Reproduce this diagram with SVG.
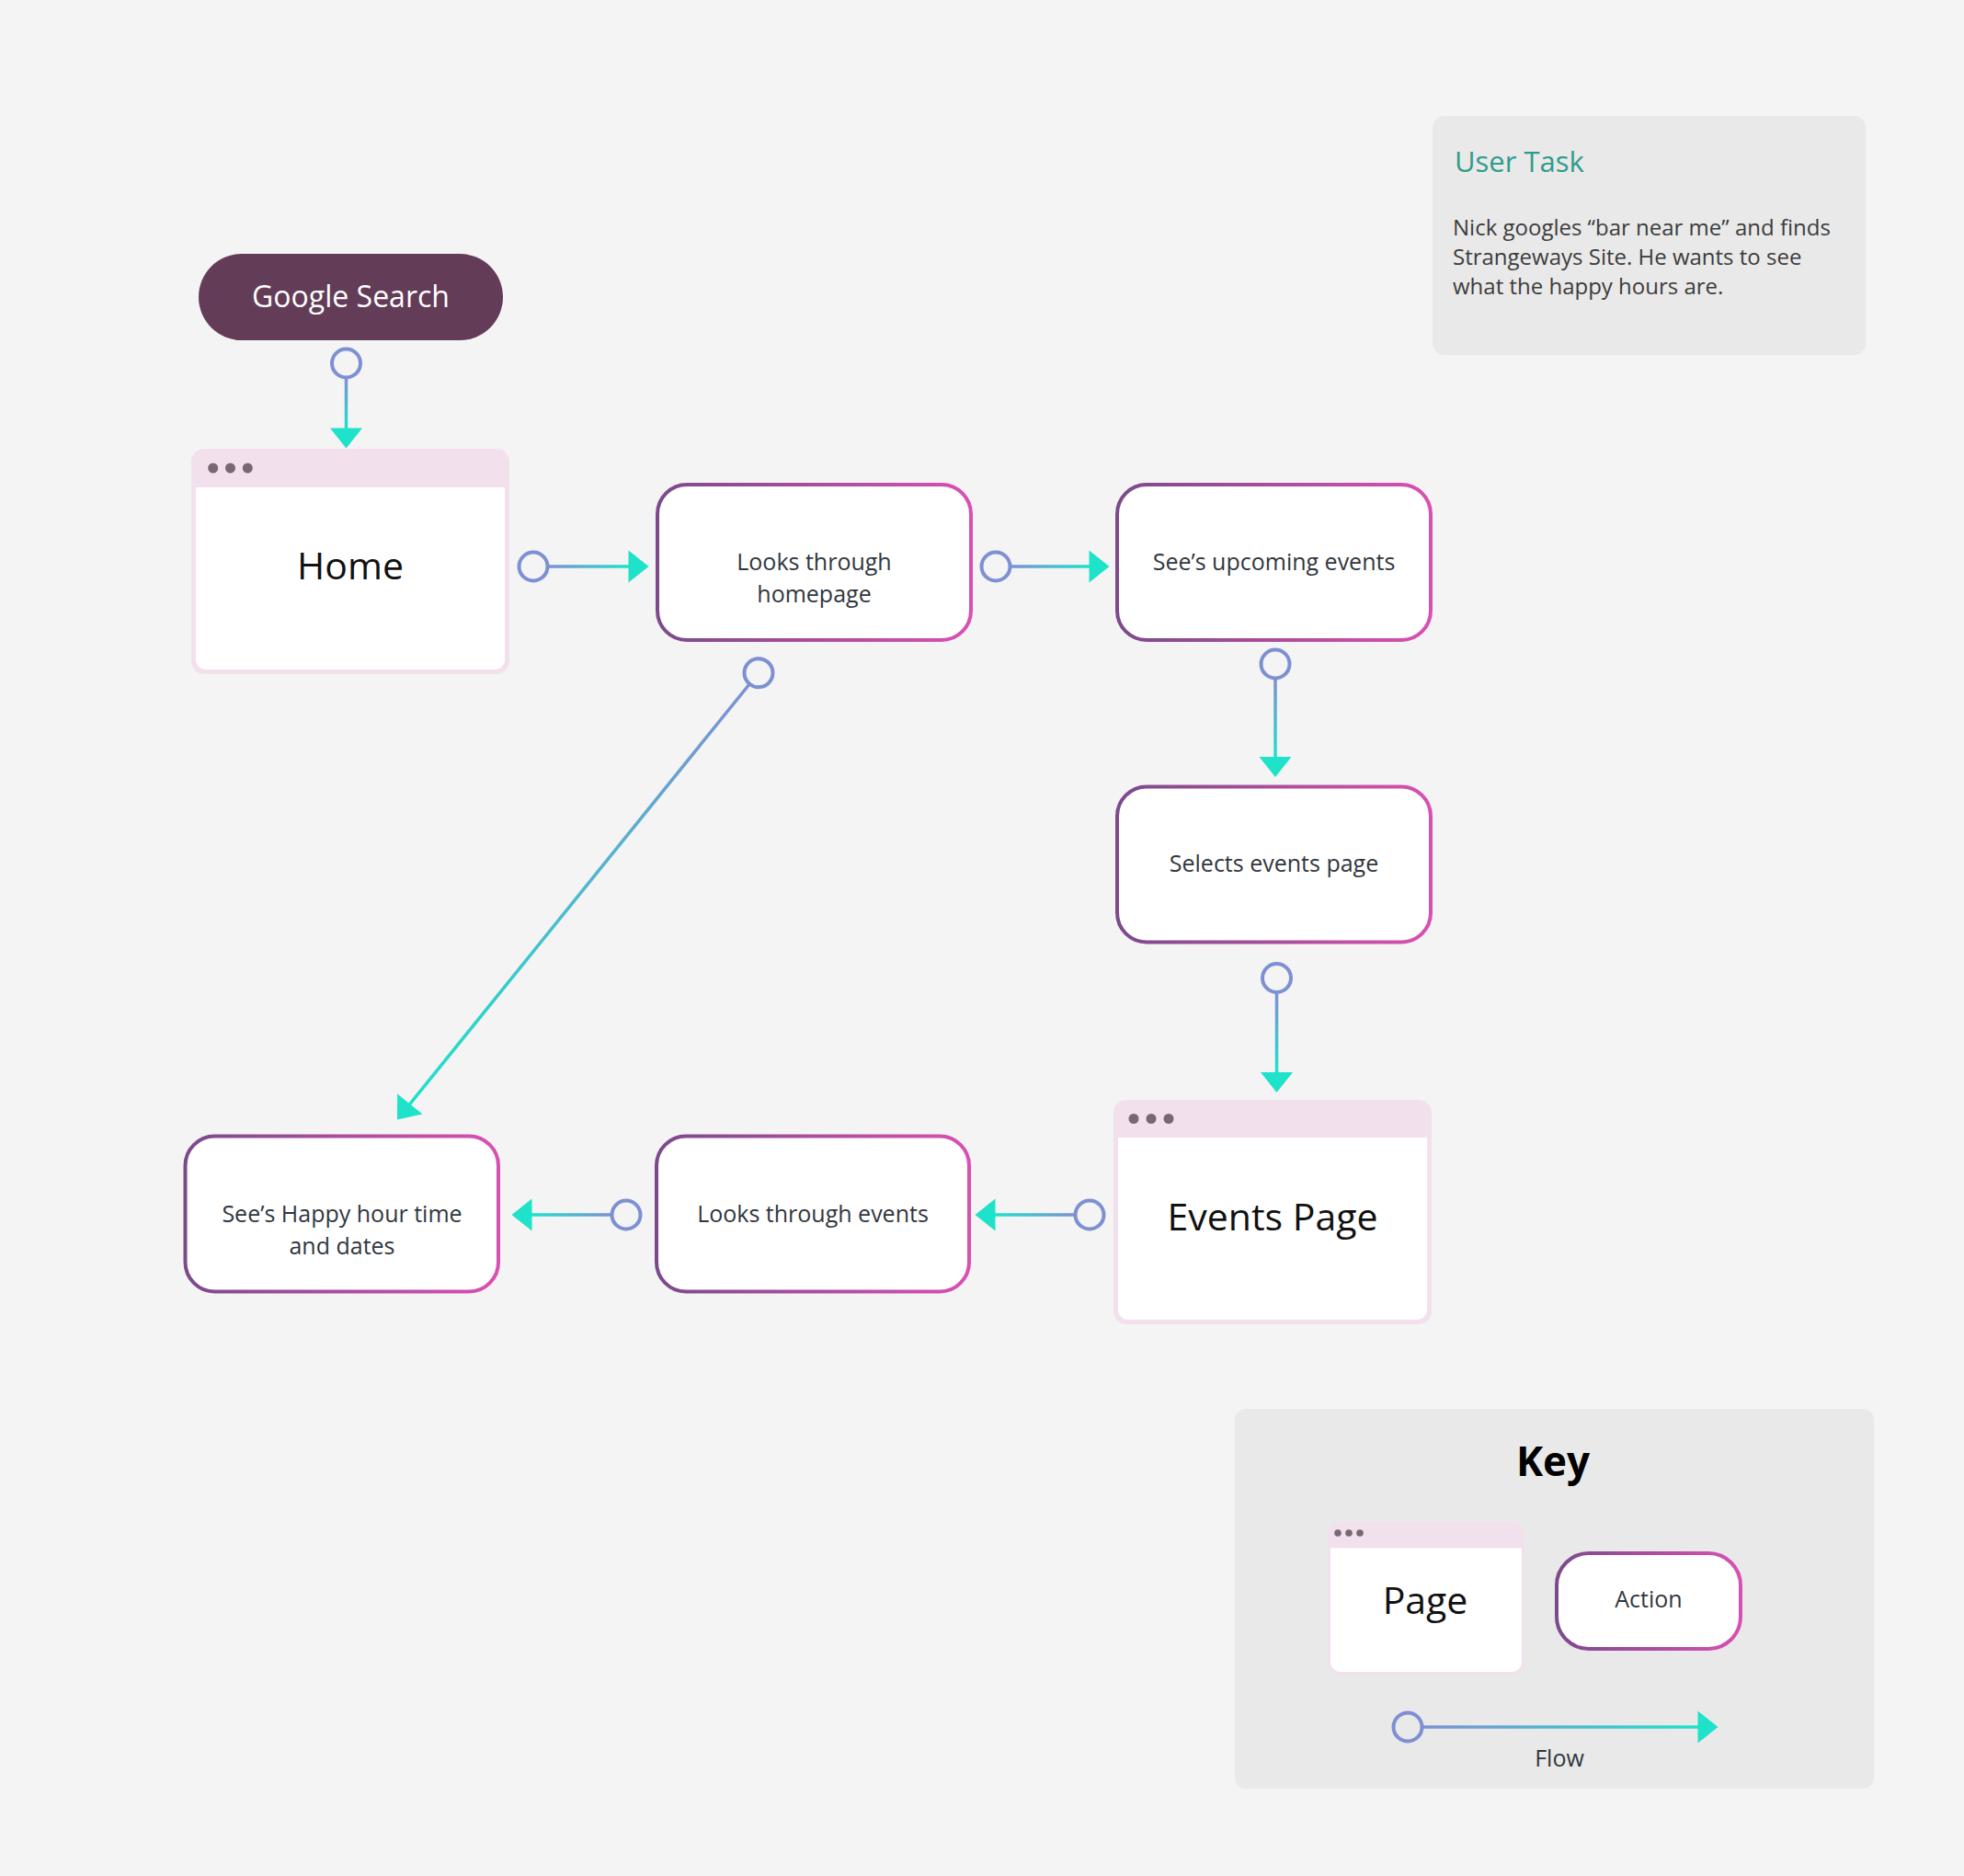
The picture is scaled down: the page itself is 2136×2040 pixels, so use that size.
<svg xmlns="http://www.w3.org/2000/svg" width="2136" height="2040" viewBox="0 0 2136 2040">
<defs>
<style>
.t{font-family:"Open Sans","Noto Sans","Liberation Sans",sans-serif}
.act{fill:#ffffff;stroke:url(#actGrad);stroke-width:4}
.atext{font-size:25px;fill:#31373e;text-anchor:middle}
.pg-outer{fill:#f2e1ed}
.pg-inner{fill:#ffffff}
.dot{fill:#7b6673}
.ptext{font-size:41px;fill:#111111;text-anchor:middle}
.flow{fill:none;stroke-width:3.5;marker-start:url(#port);marker-end:url(#arrow)}
.panel{fill:#e9e9e9}
</style>
<linearGradient id="actGrad" x1="0" y1="0" x2="1" y2="0"><stop offset="0" stop-color="#7c4a8c"/><stop offset="1" stop-color="#d950b2"/></linearGradient>
<linearGradient id="g1" gradientUnits="userSpaceOnUse" x1="376.5" y1="410.5" x2="376.5" y2="466"><stop offset="0" stop-color="#7e8fd4"/><stop offset="1" stop-color="#1ee2c9"/></linearGradient>
<linearGradient id="g2" gradientUnits="userSpaceOnUse" x1="595.5" y1="616" x2="684" y2="616"><stop offset="0" stop-color="#7e8fd4"/><stop offset="1" stop-color="#1ee2c9"/></linearGradient>
<linearGradient id="g3" gradientUnits="userSpaceOnUse" x1="1098.5" y1="616" x2="1185" y2="616"><stop offset="0" stop-color="#7e8fd4"/><stop offset="1" stop-color="#1ee2c9"/></linearGradient>
<linearGradient id="g4" gradientUnits="userSpaceOnUse" x1="1387" y1="737.5" x2="1387" y2="823.5"><stop offset="0" stop-color="#7e8fd4"/><stop offset="1" stop-color="#1ee2c9"/></linearGradient>
<linearGradient id="g5" gradientUnits="userSpaceOnUse" x1="1388.5" y1="1079" x2="1388.5" y2="1166.5"><stop offset="0" stop-color="#7e8fd4"/><stop offset="1" stop-color="#1ee2c9"/></linearGradient>
<linearGradient id="g6" gradientUnits="userSpaceOnUse" x1="1169.5" y1="1321" x2="1082" y2="1321"><stop offset="0" stop-color="#7e8fd4"/><stop offset="1" stop-color="#1ee2c9"/></linearGradient>
<linearGradient id="g7" gradientUnits="userSpaceOnUse" x1="665.5" y1="1321" x2="578" y2="1321"><stop offset="0" stop-color="#7e8fd4"/><stop offset="1" stop-color="#1ee2c9"/></linearGradient>
<linearGradient id="g8" gradientUnits="userSpaceOnUse" x1="815.25" y1="743.75" x2="445.5" y2="1200.9"><stop offset="0" stop-color="#7e8fd4"/><stop offset="1" stop-color="#1ee2c9"/></linearGradient>
<linearGradient id="gk" gradientUnits="userSpaceOnUse" x1="1546.5" y1="1878" x2="1847" y2="1878"><stop offset="0" stop-color="#7e8fd4"/><stop offset="1" stop-color="#1ee2c9"/></linearGradient>
<marker id="port" markerUnits="userSpaceOnUse" orient="auto" refX="15.5" refY="0" markerWidth="40" markerHeight="40" overflow="visible"><circle cx="0" cy="0" r="15.5" fill="none" stroke="#7d90d3" stroke-width="4"/></marker>
<marker id="arrow" markerUnits="userSpaceOnUse" orient="auto" refX="0.5" refY="0" markerWidth="30" markerHeight="40" overflow="visible"><path d="M0,-17.5 L22,0 L0,17.5 Z" fill="#1ee2c9"/></marker>
</defs>
<rect x="0" y="0" width="2136" height="2040" fill="#f4f4f4"/>

<g id="user-task">
<rect class="panel" x="1558" y="126" width="471" height="260" rx="13"/>
<text class="t" x="1582" y="187" font-size="31" fill="#2f9c8b">User Task</text>
<text class="t" font-size="24" fill="#3c3c3c"><tspan x="1580" y="256">Nick googles “bar near me” and finds</tspan><tspan x="1580" y="288">Strangeways Site. He wants to see</tspan><tspan x="1580" y="320">what the happy hours are.</tspan></text>
</g>

<g id="connectors">
<path class="flow" stroke="url(#g1)" d="M376.5,410.5 L376.5,466"/>
<path class="flow" stroke="url(#g2)" d="M595.5,616 L684,616"/>
<path class="flow" stroke="url(#g3)" d="M1098.5,616 L1185,616"/>
<path class="flow" stroke="url(#g4)" d="M1387,737.5 L1387,823.5"/>
<path class="flow" stroke="url(#g5)" d="M1388.5,1079 L1388.5,1166.5"/>
<path class="flow" stroke="url(#g6)" d="M1169.5,1321 L1082,1321"/>
<path class="flow" stroke="url(#g7)" d="M665.5,1321 L578,1321"/>
<path class="flow" stroke="url(#g8)" d="M815.25,743.75 L445.5,1200.9"/>
</g>

<g id="google-search">
<rect x="216" y="276" width="331" height="94" rx="47" fill="#633d58"/>
<text class="t" x="381.5" y="334" font-size="32" fill="#ffffff" text-anchor="middle">Google Search</text>
</g>

<g id="home">
<rect class="pg-outer" x="208" y="488" width="346" height="245" rx="14"/>
<path class="pg-inner" d="M213,530 H549 V717 A11,11 0 0 1 538,728 H224 A11,11 0 0 1 213,717 Z"/>
<circle class="dot" cx="231.7" cy="509" r="5.5"/>
<circle class="dot" cx="250.5" cy="509" r="5.5"/>
<circle class="dot" cx="269.3" cy="509" r="5.5"/>
<text class="t ptext" x="381" y="630">Home</text>
</g>

<g id="looks-homepage">
<rect class="act" x="715" y="527" width="341" height="169" rx="32"/>
<text class="t atext"><tspan x="885.5" y="620">Looks through</tspan><tspan x="885.5" y="655">homepage</tspan></text>
</g>

<g id="upcoming-events">
<rect class="act" x="1215" y="527" width="341" height="169" rx="32"/>
<text class="t atext" x="1385.5" y="620">See’s upcoming events</text>
</g>

<g id="selects-events">
<rect class="act" x="1215" y="855.5" width="341" height="169" rx="32"/>
<text class="t atext" x="1385.5" y="948">Selects events page</text>
</g>

<g id="events-page">
<rect class="pg-outer" x="1211" y="1196" width="346" height="244" rx="14"/>
<path class="pg-inner" d="M1216,1237 H1552 V1424 A11,11 0 0 1 1541,1435 H1227 A11,11 0 0 1 1216,1424 Z"/>
<circle class="dot" cx="1233" cy="1216.5" r="5.5"/>
<circle class="dot" cx="1252" cy="1216.5" r="5.5"/>
<circle class="dot" cx="1271" cy="1216.5" r="5.5"/>
<text class="t ptext" x="1384" y="1338">Events Page</text>
</g>

<g id="looks-events">
<rect class="act" x="714" y="1235.5" width="340" height="169" rx="32"/>
<text class="t atext" x="884" y="1329">Looks through events</text>
</g>

<g id="happy-hour">
<rect class="act" x="201.5" y="1235.5" width="340.5" height="169" rx="32"/>
<text class="t atext"><tspan x="372" y="1329">See’s Happy hour time</tspan><tspan x="372" y="1364">and dates</tspan></text>
</g>

<g id="key">
<rect class="panel" x="1343" y="1532" width="695" height="413" rx="12"/>
<text class="t" x="1689" y="1605" font-size="44" font-weight="700" fill="#000000" text-anchor="middle">Key</text>
<g id="key-page">
<rect class="pg-outer" x="1444" y="1655" width="214" height="166" rx="14"/>
<path class="pg-inner" d="M1447,1683.5 H1655 V1807 A11,11 0 0 1 1644,1818 H1458 A11,11 0 0 1 1447,1807 Z"/>
<circle class="dot" cx="1455" cy="1667" r="3.8"/>
<circle class="dot" cx="1467" cy="1667" r="3.8"/>
<circle class="dot" cx="1479" cy="1667" r="3.8"/>
<text class="t ptext" x="1550" y="1755" font-size="43">Page</text>
</g>
<g id="key-action">
<rect class="act" x="1693" y="1689" width="200" height="104" rx="35"/>
<text class="t atext" x="1793" y="1748">Action</text>
</g>
<g id="key-flow">
<path class="flow" stroke="url(#gk)" d="M1546.5,1878 L1847,1878"/>
<text class="t atext" x="1696" y="1921">Flow</text>
</g>
</g>
</svg>
